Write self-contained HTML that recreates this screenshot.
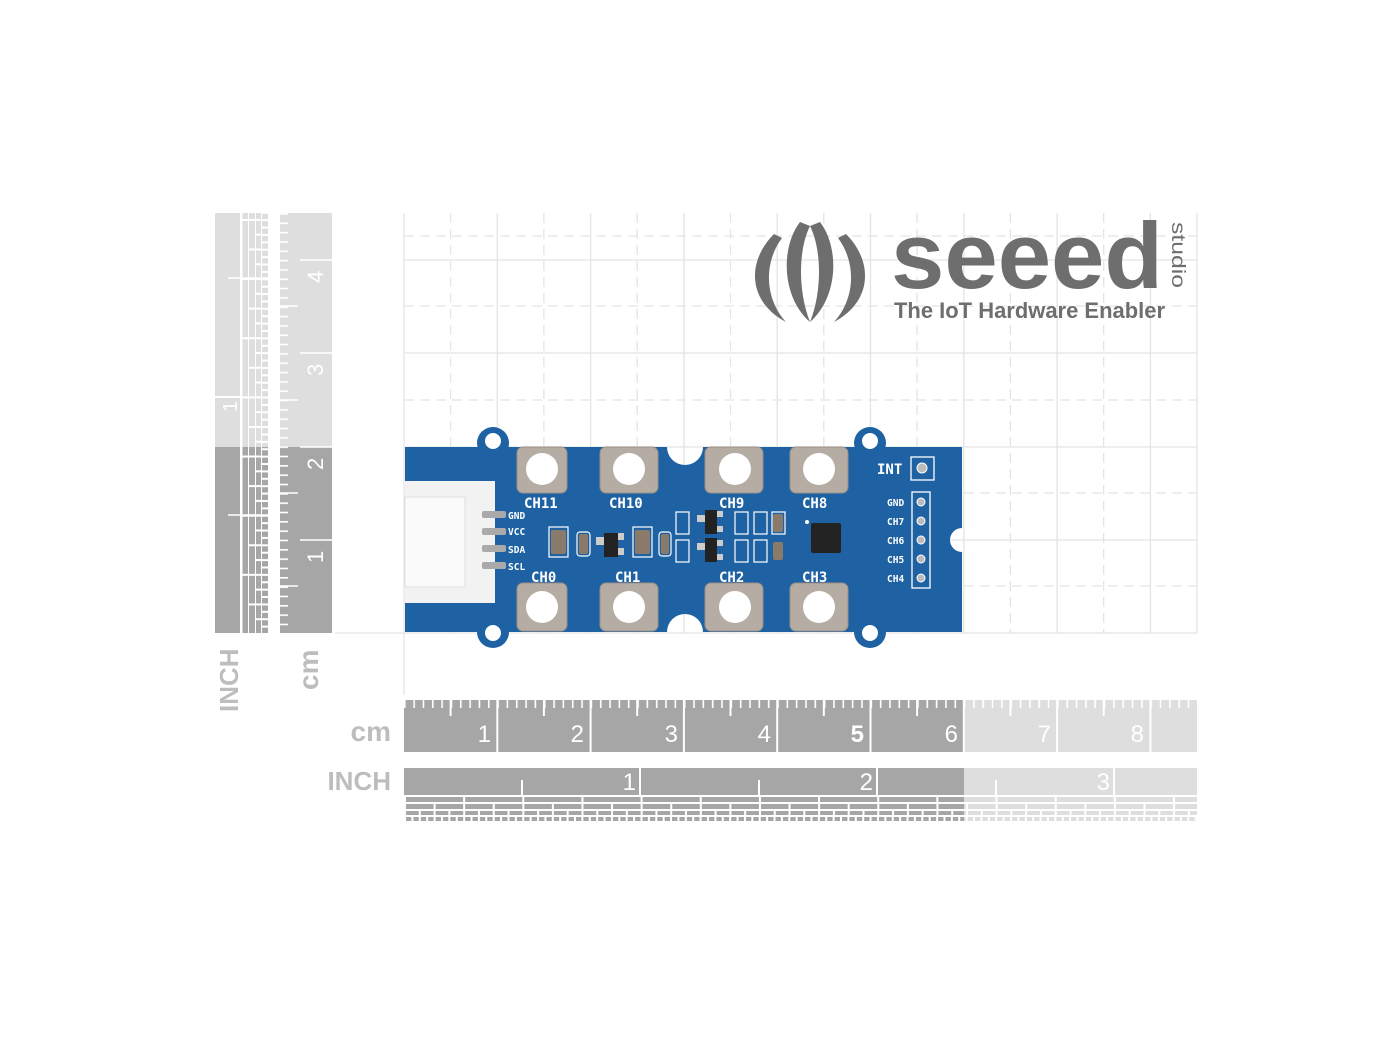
<!DOCTYPE html>
<html><head><meta charset="utf-8"><style>
html,body{margin:0;padding:0;background:#fff;}
svg{display:block}
.s{font-family:"Liberation Sans",sans-serif;}
.m{font-family:"DejaVu Sans Mono",monospace;font-weight:bold;}
</style></head><body>
<svg width="1400" height="1050" viewBox="0 0 1400 1050" xmlns="http://www.w3.org/2000/svg" class="s">
<defs>
<pattern id="mm" x="404" y="0" width="9.33" height="20" patternUnits="userSpaceOnUse"><rect x="0" y="0" width="1.6" height="20" fill="#fff"/></pattern>
<pattern id="mmv" x="0" y="633" width="20" height="9.33" patternUnits="userSpaceOnUse"><rect x="0" y="0" width="20" height="1.6" fill="#fff"/></pattern>
<pattern id="i4" x="404" y="0" width="59.15" height="10" patternUnits="userSpaceOnUse"><rect x="0" width="2" height="10" fill="#fff"/></pattern>
<pattern id="i8" x="404" y="0" width="29.58" height="10" patternUnits="userSpaceOnUse"><rect x="0" width="2" height="10" fill="#fff"/></pattern>
<pattern id="i16" x="404" y="0" width="14.79" height="10" patternUnits="userSpaceOnUse"><rect x="0" width="2" height="10" fill="#fff"/></pattern>
<pattern id="i32" x="404" y="0" width="7.39" height="10" patternUnits="userSpaceOnUse"><rect x="0" width="2" height="10" fill="#fff"/></pattern>
<pattern id="v4" x="0" y="633" width="10" height="59.15" patternUnits="userSpaceOnUse"><rect y="0" height="2" width="10" fill="#fff"/></pattern>
<pattern id="v8" x="0" y="633" width="10" height="29.58" patternUnits="userSpaceOnUse"><rect y="0" height="2" width="10" fill="#fff"/></pattern>
<pattern id="v16" x="0" y="633" width="10" height="14.79" patternUnits="userSpaceOnUse"><rect y="0" height="2" width="10" fill="#fff"/></pattern>
<pattern id="v32" x="0" y="633" width="10" height="7.39" patternUnits="userSpaceOnUse"><rect y="0" height="2" width="10" fill="#fff"/></pattern>
</defs>

<!-- grid -->
<g stroke="#e4e4e4" stroke-width="1.3" fill="none">
<g stroke-dasharray="10,6">
<line x1="450.6" y1="213" x2="450.6" y2="633"/><line x1="543.9" y1="213" x2="543.9" y2="633"/><line x1="637.2" y1="213" x2="637.2" y2="633"/><line x1="730.5" y1="213" x2="730.5" y2="633"/><line x1="823.8" y1="213" x2="823.8" y2="633"/><line x1="917.1" y1="213" x2="917.1" y2="633"/><line x1="1010.4" y1="213" x2="1010.4" y2="633"/><line x1="1103.7" y1="213" x2="1103.7" y2="633"/>
<line x1="404" y1="586" x2="1197" y2="586"/><line x1="404" y1="493" x2="1197" y2="493"/><line x1="404" y1="400" x2="1197" y2="400"/><line x1="404" y1="306" x2="1197" y2="306"/><line x1="404" y1="236" x2="1197" y2="236"/>
</g>
<line x1="404" y1="213" x2="404" y2="695"/><line x1="497.3" y1="213" x2="497.3" y2="633"/><line x1="590.6" y1="213" x2="590.6" y2="633"/><line x1="683.9" y1="213" x2="683.9" y2="633"/><line x1="777.2" y1="213" x2="777.2" y2="633"/><line x1="870.5" y1="213" x2="870.5" y2="633"/><line x1="963.8" y1="213" x2="963.8" y2="633"/><line x1="1057.1" y1="213" x2="1057.1" y2="633"/><line x1="1150.4" y1="213" x2="1150.4" y2="633"/><line x1="1197" y1="213" x2="1197" y2="633"/>
<line x1="335" y1="633" x2="1197" y2="633"/><line x1="404" y1="540" x2="1197" y2="540"/><line x1="404" y1="447" x2="1197" y2="447"/><line x1="404" y1="353" x2="1197" y2="353"/><line x1="404" y1="260" x2="1197" y2="260"/>
</g>

<!-- logo -->
<g fill="#6e6e6e">
<path d="M774 234 C746 262 748 302 786 322 C764 298 764 262 782 238 Z"/>
<path d="M800 222 C780 248 782 298 810 322 C798 292 798 250 810 226 Z"/>
<path d="M846 234 C874 262 872 302 834 322 C856 298 856 262 838 238 Z"/>
<path d="M820 222 C840 248 838 298 810 322 C822 292 822 250 810 226 Z"/>
<text x="891" y="288" font-size="94" font-weight="bold" textLength="272" lengthAdjust="spacingAndGlyphs">seeed</text>
<text x="1172" y="222" font-size="19" transform="rotate(90 1172 222)" textLength="66" lengthAdjust="spacingAndGlyphs">studio</text>
<text x="894" y="318" font-size="22" font-weight="bold" textLength="271" lengthAdjust="spacingAndGlyphs">The IoT Hardware Enabler</text>
</g>

<!-- left INCH ruler -->
<rect x="215" y="213" width="25" height="183" fill="#dedede"/>
<rect x="215" y="398" width="25" height="49" fill="#dedede"/>
<rect x="215" y="447" width="25" height="186" fill="#a6a6a6"/>
<rect x="242" y="213" width="26" height="234" fill="#dedede"/>
<rect x="242" y="447" width="26" height="186" fill="#a6a6a6"/>
<rect x="242" y="213" width="6" height="420" fill="url(#v4)"/>
<rect x="249" y="213" width="6" height="420" fill="url(#v8)"/>
<rect x="256" y="213" width="5" height="420" fill="url(#v16)"/>
<rect x="262" y="213" width="6" height="420" fill="url(#v32)"/>
<rect x="241" y="213" width="1.5" height="420" fill="#fff"/><rect x="248" y="213" width="1" height="420" fill="#fff"/><rect x="255" y="213" width="1" height="420" fill="#fff"/><rect x="261" y="213" width="1" height="420" fill="#fff"/>
<line x1="228" y1="515" x2="268" y2="515" stroke="#fff" stroke-width="1.5"/>
<line x1="228" y1="278" x2="268" y2="278" stroke="#fff" stroke-width="1.5"/>
<text transform="translate(237 412) rotate(-90)" font-size="20" fill="#fff">1</text>
<text transform="translate(238 712) rotate(-90)" font-size="26" font-weight="bold" fill="#bdbdbd">INCH</text>

<!-- left cm ruler -->
<rect x="280" y="213" width="52" height="234" fill="#dedede"/>
<rect x="280" y="447" width="52" height="186" fill="#a6a6a6"/>
<rect x="280" y="213" width="8" height="420" fill="url(#mmv)"/>
<g stroke="#fff" stroke-width="1.5">
<line x1="280" y1="586" x2="298" y2="586"/><line x1="280" y1="493" x2="298" y2="493"/><line x1="280" y1="400" x2="298" y2="400"/><line x1="280" y1="306" x2="298" y2="306"/>
<line x1="300" y1="540" x2="332" y2="540"/><line x1="300" y1="447" x2="332" y2="447"/><line x1="300" y1="353" x2="332" y2="353"/><line x1="300" y1="260" x2="332" y2="260"/>
</g>
<g font-size="22" fill="#fff">
<text transform="translate(323 563) rotate(-90)">1</text>
<text transform="translate(323 470) rotate(-90)">2</text>
<text transform="translate(323 376) rotate(-90)">3</text>
<text transform="translate(323 283) rotate(-90)">4</text>
</g>
<text transform="translate(318 690) rotate(-90)" font-size="28" font-weight="bold" fill="#bdbdbd">cm</text>

<!-- bottom cm ruler -->
<rect x="404" y="700" width="560" height="52" fill="#a6a6a6"/>
<rect x="964" y="700" width="233" height="52" fill="#dedede"/>
<rect x="404" y="700" width="793" height="8" fill="url(#mm)"/>
<g stroke="#fff" stroke-width="2">
<line x1="450.6" y1="700" x2="450.6" y2="716"/><line x1="543.9" y1="700" x2="543.9" y2="716"/><line x1="637.2" y1="700" x2="637.2" y2="716"/><line x1="730.5" y1="700" x2="730.5" y2="716"/><line x1="823.8" y1="700" x2="823.8" y2="716"/><line x1="917.1" y1="700" x2="917.1" y2="716"/><line x1="1010.4" y1="700" x2="1010.4" y2="716"/><line x1="1103.7" y1="700" x2="1103.7" y2="716"/>
<line x1="497.3" y1="700" x2="497.3" y2="752"/><line x1="590.6" y1="700" x2="590.6" y2="752"/><line x1="683.9" y1="700" x2="683.9" y2="752"/><line x1="777.2" y1="700" x2="777.2" y2="752"/><line x1="870.5" y1="700" x2="870.5" y2="752"/><line x1="963.8" y1="700" x2="963.8" y2="752"/><line x1="1057.1" y1="700" x2="1057.1" y2="752"/><line x1="1150.4" y1="700" x2="1150.4" y2="752"/>
</g>
<g font-size="24" fill="#fff" text-anchor="end">
<text x="491" y="742">1</text><text x="584" y="742">2</text><text x="678" y="742">3</text><text x="771" y="742">4</text><text x="864" y="742" font-weight="bold">5</text><text x="958" y="742">6</text><text x="1051" y="742">7</text><text x="1144" y="742">8</text>
</g>
<text x="391" y="741" font-size="28" font-weight="bold" fill="#bdbdbd" text-anchor="end">cm</text>

<!-- bottom inch ruler -->
<rect x="404" y="768" width="560" height="27" fill="#a6a6a6"/>
<rect x="964" y="768" width="233" height="27" fill="#dedede"/>
<g>
<rect x="404" y="797" width="560" height="5" fill="#a6a6a6"/><rect x="964" y="797" width="233" height="5" fill="#dedede"/>
<rect x="404" y="797" width="793" height="5" fill="url(#i4)"/>
<rect x="404" y="804" width="560" height="5" fill="#a6a6a6"/><rect x="964" y="804" width="233" height="5" fill="#dedede"/>
<rect x="404" y="804" width="793" height="5" fill="url(#i8)"/>
<rect x="404" y="811" width="560" height="4" fill="#a6a6a6"/><rect x="964" y="811" width="233" height="4" fill="#dedede"/>
<rect x="404" y="811" width="793" height="4" fill="url(#i16)"/>
<rect x="404" y="817" width="560" height="4" fill="#a6a6a6"/><rect x="964" y="817" width="233" height="4" fill="#dedede"/>
<rect x="404" y="817" width="793" height="4" fill="url(#i32)"/>
</g>
<g stroke="#fff" stroke-width="2">
<line x1="640" y1="768" x2="640" y2="795"/><line x1="877" y1="768" x2="877" y2="795"/><line x1="1114" y1="768" x2="1114" y2="795"/>
<line x1="522" y1="780" x2="522" y2="795"/><line x1="759" y1="780" x2="759" y2="795"/><line x1="996" y1="780" x2="996" y2="795"/>
</g>
<g font-size="24" fill="#fff" text-anchor="end"><text x="636" y="790">1</text><text x="873" y="790">2</text><text x="1110" y="790">3</text></g>
<text x="391" y="790" font-size="26" font-weight="bold" fill="#bdbdbd" text-anchor="end">INCH</text>

<!-- board -->
<g>
<path d="M405 447 H667 A18 18 0 0 0 703 447 H962 V528 A12 12 0 0 0 962 552 V632 H703 A18 18 0 0 0 667 632 H405 Z" fill="#1f62a4"/>
<circle cx="493" cy="443" r="16" fill="#1f62a4"/><circle cx="870" cy="443" r="16" fill="#1f62a4"/>
<circle cx="493" cy="632" r="16" fill="#1f62a4"/><circle cx="870" cy="632" r="16" fill="#1f62a4"/>
<rect x="478" y="443" width="30" height="10" fill="#1f62a4"/><rect x="855" y="443" width="30" height="10" fill="#1f62a4"/>
<rect x="478" y="622" width="30" height="10" fill="#1f62a4"/><rect x="855" y="622" width="30" height="10" fill="#1f62a4"/>
<g fill="#fff"><circle cx="493" cy="441" r="8"/><circle cx="870" cy="441" r="8"/><circle cx="493" cy="633" r="8"/><circle cx="870" cy="633" r="8"/></g>
<g fill="#b5aca4" stroke="#9a8f86" stroke-width="1">
<rect x="517" y="447" width="50" height="46" rx="6"/><rect x="600" y="447" width="58" height="46" rx="6"/><rect x="705" y="447" width="58" height="46" rx="6"/><rect x="790" y="447" width="58" height="46" rx="6"/>
<rect x="517" y="583" width="50" height="48" rx="6"/><rect x="600" y="583" width="58" height="48" rx="6"/><rect x="705" y="583" width="58" height="48" rx="6"/><rect x="790" y="583" width="58" height="48" rx="6"/>
</g>
<g fill="#fff"><circle cx="542" cy="469" r="16"/><circle cx="629" cy="469" r="16"/><circle cx="735" cy="469" r="16"/><circle cx="819" cy="469" r="16"/>
<circle cx="542" cy="607" r="16"/><circle cx="629" cy="607" r="16"/><circle cx="735" cy="607" r="16"/><circle cx="819" cy="607" r="16"/></g>
<!-- connector -->
<rect x="405" y="481" width="90" height="122" fill="#f2f2f2"/>
<rect x="405" y="497" width="60" height="90" fill="#fafafa" stroke="#e0e0e0"/>
<g fill="#aaa"><rect x="482" y="511" width="24" height="7" rx="2"/><rect x="482" y="528" width="24" height="7" rx="2"/><rect x="482" y="545" width="24" height="7" rx="2"/><rect x="482" y="562" width="24" height="7" rx="2"/></g>
<g fill="none" stroke="#fff" stroke-width="1.2">
<rect x="549" y="527" width="19" height="30"/><rect x="577" y="532" width="13" height="24" rx="3"/><rect x="633" y="527" width="19" height="30"/><rect x="659" y="532" width="12" height="24" rx="3"/>
<rect x="676" y="512" width="13" height="22"/><rect x="676" y="540" width="13" height="22"/>
<rect x="735" y="512" width="13" height="22"/><rect x="754" y="512" width="13" height="22"/><rect x="772" y="512" width="13" height="22"/>
<rect x="735" y="540" width="13" height="22"/><rect x="754" y="540" width="13" height="22"/>
</g>
<g fill="#8a7a6a"><rect x="551" y="530" width="15" height="24" rx="2"/><rect x="579" y="534" width="9" height="20" rx="2"/><rect x="635" y="530" width="15" height="24" rx="2"/><rect x="661" y="534" width="8" height="20" rx="2"/><rect x="773" y="514" width="10" height="18" rx="2"/><rect x="773" y="542" width="10" height="18" rx="2"/></g>
<g fill="#222"><rect x="604" y="533" width="14" height="24"/><rect x="705" y="510" width="12" height="24"/><rect x="705" y="538" width="12" height="24"/><rect x="811" y="523" width="30" height="30" rx="2"/></g>
<g fill="#ccc"><rect x="596" y="537" width="8" height="8"/><rect x="618" y="533" width="6" height="7"/><rect x="618" y="548" width="6" height="7"/><rect x="697" y="515" width="8" height="7"/><rect x="717" y="511" width="6" height="6"/><rect x="717" y="526" width="6" height="6"/><rect x="697" y="543" width="8" height="7"/><rect x="717" y="540" width="6" height="6"/><rect x="717" y="554" width="6" height="6"/></g>
<circle cx="807" cy="522" r="2" fill="#fff"/>
<g fill="#fff" class="m" font-size="14">
<text x="524" y="508">CH11</text><text x="609" y="508">CH10</text><text x="719" y="508">CH9</text><text x="802" y="508">CH8</text>
<text x="531" y="582">CH0</text><text x="615" y="582">CH1</text><text x="719" y="582">CH2</text><text x="802" y="582">CH3</text>
<text x="877" y="474">INT</text>
</g>
<g fill="#fff" class="m" font-size="9.5">
<text x="508" y="519">GND</text><text x="508" y="535">VCC</text><text x="508" y="553">SDA</text><text x="508" y="570">SCL</text>
<text x="887" y="506">GND</text><text x="887" y="525">CH7</text><text x="887" y="544">CH6</text><text x="887" y="563">CH5</text><text x="887" y="582">CH4</text>
</g>
<rect x="911" y="457" width="23" height="23" fill="none" stroke="#fff" stroke-width="1.3"/>
<circle cx="922" cy="468" r="5" fill="#bbb" stroke="#fff"/>
<rect x="912" y="492" width="18" height="96" fill="none" stroke="#fff" stroke-width="1.3"/>
<g fill="#bbb" stroke="#fff"><circle cx="921" cy="502" r="4"/><circle cx="921" cy="521" r="4"/><circle cx="921" cy="540" r="4"/><circle cx="921" cy="559" r="4"/><circle cx="921" cy="578" r="4"/></g>
</g>
</svg>
</body></html>
